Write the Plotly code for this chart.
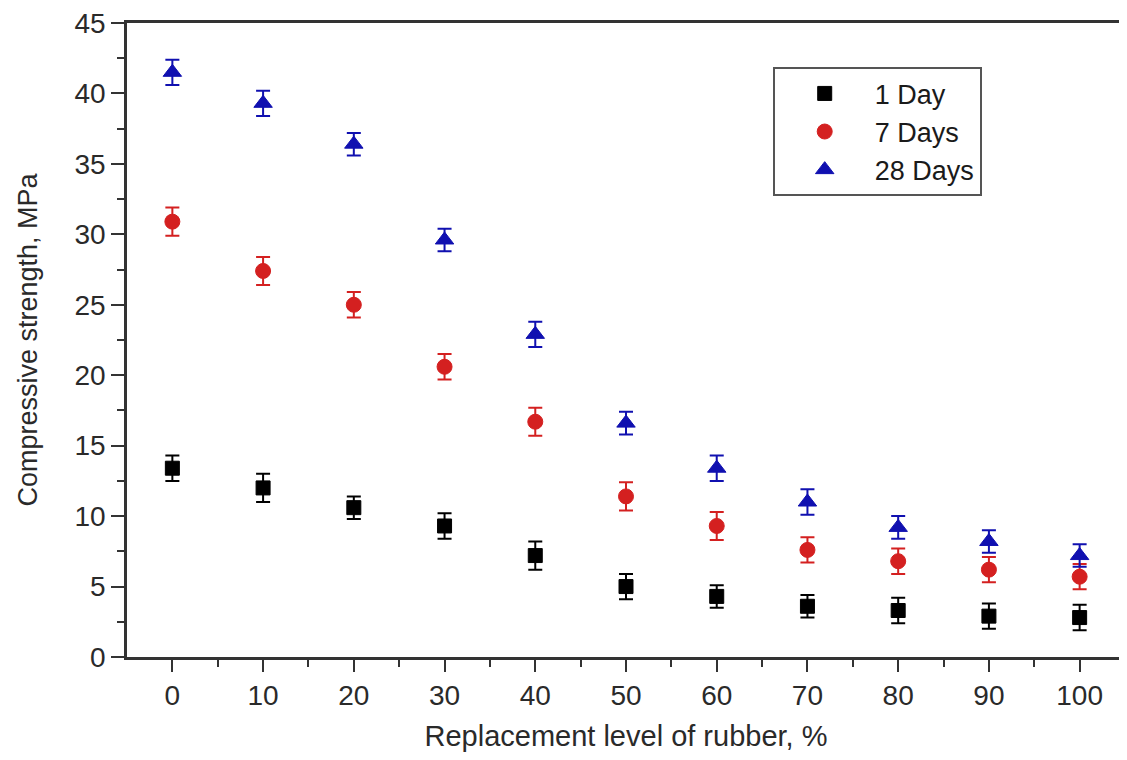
import plotly.graph_objects as go

replacement = [0, 10, 20, 30, 40, 50, 60, 70, 80, 90, 100]
day1 = [13.4, 12.0, 10.6, 9.3, 7.2, 5.0, 4.3, 3.6, 3.3, 2.9, 2.8]
day1_err = [0.9, 1.0, 0.8, 0.9, 1.0, 0.9, 0.8, 0.8, 0.9, 0.9, 0.9]
day7 = [30.9, 27.4, 25.0, 20.6, 16.7, 11.4, 9.3, 7.6, 6.8, 6.2, 5.7]
day7_err = [1.0, 1.0, 0.9, 0.9, 1.0, 1.0, 1.0, 0.9, 0.9, 0.9, 0.9]
day28 = [41.5, 39.3, 36.4, 29.6, 22.9, 16.6, 13.4, 11.0, 9.2, 8.2, 7.2]
day28_err = [0.9, 0.9, 0.8, 0.8, 0.9, 0.8, 0.9, 0.9, 0.8, 0.8, 0.8]

series = [
    ("1 Day", day1, day1_err, "#000000", "square", 14),
    ("7 Days", day7, day7_err, "#d42020", "circle", 15),
    ("28 Days", day28, day28_err, "#1010b0", "triangle-up", 16),
]

fig = go.Figure()
for name, vals, err, color, sym, sz in series:
    fig.add_trace(go.Scatter(
        x=replacement, y=vals, name=name, mode="markers",
        marker=dict(symbol=sym, size=sz, color=color,
                    line=dict(color=color, width=1)),
        error_y=dict(type="data", array=err, visible=True, color=color,
                     thickness=2, width=7),
    ))

font_family = "Liberation Sans, Arial, sans-serif"
fig.update_layout(
    width=1119, height=752,
    margin=dict(l=119, r=2, t=15, b=103, autoexpand=False),
    paper_bgcolor="white", plot_bgcolor="white",
    font=dict(family=font_family, size=28, color="#2a2a2a"),
    showlegend=True,
    legend=dict(x=0.647, y=0.93, xanchor="left", yanchor="top",
                bordercolor="#555555", borderwidth=2, bgcolor="white",
                font=dict(size=27, color="#1a1a1a"),
                itemwidth=90, tracegroupgap=0),
    xaxis=dict(
        range=[-5, 105], tickmode="array", tickvals=replacement,
        ticks="outside", ticklen=12, tickwidth=2, tickcolor="#333333",
        showline=True, linecolor="#333333", linewidth=2.5, mirror=True,
        showgrid=False, zeroline=False, automargin=False,
        ticklabeloverflow="allow",
        minor=dict(tickvals=[5, 15, 25, 35, 45, 55, 65, 75, 85, 95],
                   ticks="outside", ticklen=7, tickwidth=2, tickcolor="#333333"),
        title=dict(text="Replacement level of rubber, %", font=dict(size=29), standoff=16),
        tickfont=dict(size=28),
    ),
    yaxis=dict(
        range=[0, 45], tickmode="array", tickvals=[0, 5, 10, 15, 20, 25, 30, 35, 40, 45],
        ticks="outside", ticklen=13, tickwidth=2, tickcolor="#333333",
        showline=True, linecolor="#333333", linewidth=2.5, mirror=True,
        showgrid=False, zeroline=False, automargin=False,
        ticklabeloverflow="allow",
        minor=dict(tickvals=[2.5, 7.5, 12.5, 17.5, 22.5, 27.5, 32.5, 37.5, 42.5],
                   ticks="outside", ticklen=7, tickwidth=2, tickcolor="#333333"),
        title=dict(text="Compressive strength, MPa", font=dict(size=27), standoff=30),
        tickfont=dict(size=28),
    ),
)

fig.write_html("out.html")
